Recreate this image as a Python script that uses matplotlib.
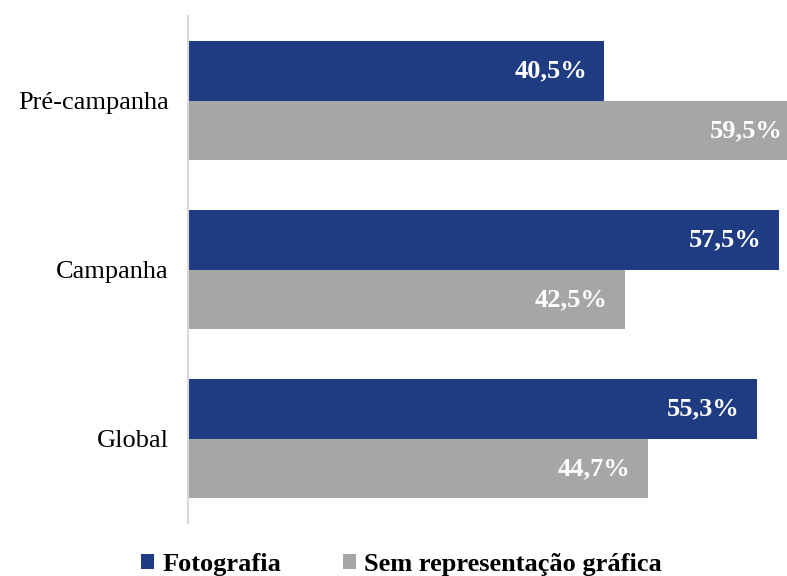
import matplotlib.pyplot as plt
import numpy as np

categories = ["Pré-campanha", "Campanha", "Global"]
fotografia = [40.5, 57.5, 55.3]
sem_repr = [59.5, 42.5, 44.7]
series_names = ["Fotografia", "Sem representação gráfica"]

NAVY = "#1F3B81"
GRAY = "#A6A6A6"

plt.rcParams["font.family"] = ["Liberation Serif", "DejaVu Serif"]

W, H = 787, 576
fig = plt.figure(figsize=(W / 100, H / 100), dpi=100)
# axes extend past the right edge on purpose: the longest bar is cut off
ax = fig.add_axes([188 / W, (H - 523) / H, 617 / W, 507 / H])

y = np.arange(len(categories))
h = 0.354
b1 = ax.barh(y - h / 2, fotografia, height=h, color=NAVY, label=series_names[0])
b2 = ax.barh(y + h / 2, sem_repr, height=h, color=GRAY, label=series_names[1])

for bars, vals in ((b1, fotografia), (b2, sem_repr)):
    for bar, v in zip(bars, vals):
        ax.text(v - 1.7, bar.get_y() + bar.get_height() / 2,
                f"{v:.1f}%".replace(".", ","), ha="right", va="center",
                color="white", fontsize=19, fontweight="bold")

ax.set_xlim(0, 60)
ax.set_ylim(2.5, -0.5)
ax.set_yticks(y)
ax.set_yticklabels(categories, fontsize=19)
ax.tick_params(axis="y", length=0, pad=14)
ax.set_xticks([])
for s in ("top", "right", "bottom"):
    ax.spines[s].set_visible(False)
ax.spines["left"].set_color("#D9D9D9")
ax.spines["left"].set_linewidth(1.5)

fig.legend(handles=[b1, b2], loc="center", bbox_to_anchor=(0.51, 0.02),
           ncol=2, frameon=False, handlelength=0.5, handleheight=0.5,
           handletextpad=0.3, columnspacing=2.35,
           prop={"size": 19, "weight": "bold"})

fig.savefig("out.png", dpi=100)
